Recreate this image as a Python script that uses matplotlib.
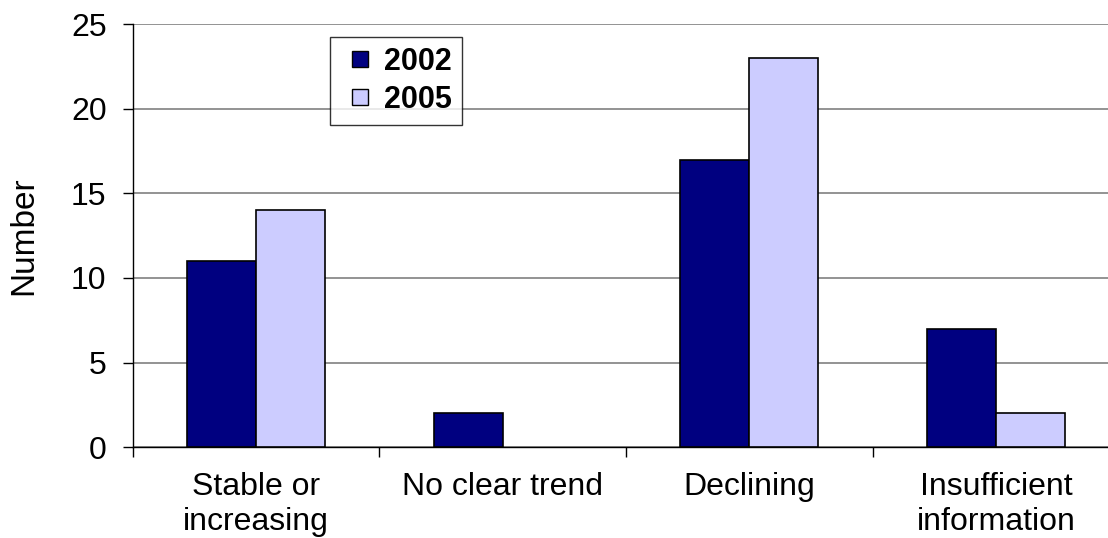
import numpy as np
import matplotlib.pyplot as plt
from matplotlib.ticker import FixedLocator
from matplotlib.lines import Line2D

categories = ['Stable or\nincreasing', 'No clear trend', 'Declining', 'Insufficient\ninformation']
v2002 = [11, 2, 17, 7]
v2005 = [14, 0, 23, 2]
years = ['2002', '2005']
colors = ['#000080', '#ccccff']

plt.rcParams['font.family'] = ['Liberation Sans', 'DejaVu Sans']

fig = plt.figure(figsize=(11.08, 5.38), dpi=100)
ax = fig.add_axes([0.12, 0.169, 0.89, 0.786])

x = np.arange(len(categories))
w = 0.28
lw1 = [1.2 if v > 0 else 0 for v in v2002]
lw2 = [1.2 if v > 0 else 0 for v in v2005]
ax.bar(x - w/2, v2002, w, color=colors[0], edgecolor='black', linewidth=lw1, zorder=3)
ax.bar(x + w/2, v2005, w, color=colors[1], edgecolor='black', linewidth=lw2, zorder=3)

ax.set_xlim(-0.5, len(categories) - 0.5)
ax.set_ylim(0, 25)
ax.set_yticks([0, 5, 10, 15, 20, 25])
ax.yaxis.grid(True, color='#808080', linewidth=1.2, zorder=0)

ax.set_xticks(x)
ax.set_xticklabels(categories, fontsize=23)
ax.xaxis.set_minor_locator(FixedLocator(np.arange(-0.5, len(categories), 1.0)))
ax.tick_params(axis='x', which='major', length=0, pad=18)
ax.tick_params(axis='x', which='minor', length=7, width=1, direction='out')
ax.tick_params(axis='y', labelsize=23, length=7, width=1, direction='out', pad=12)

for s in ['top', 'right']:
    ax.spines[s].set_visible(False)
for s in ['left', 'bottom']:
    ax.spines[s].set_linewidth(1)

ax.set_ylabel('Number', fontsize=24, labelpad=23)

handles = [Line2D([], [], linestyle='none', marker='s', markersize=11,
                  markerfacecolor=c, markeredgecolor='black', markeredgewidth=1)
           for c in colors]
leg = ax.legend(handles, years, loc='upper left', bbox_to_anchor=(0.2, 0.969), frameon=True,
                fancybox=False, edgecolor='black', prop={'weight': 'bold', 'size': 22},
                handlelength=1.3, handletextpad=0.15,
                borderpad=0.32, labelspacing=0.25, borderaxespad=0)
leg.get_frame().set_linewidth(1)
leg.set_zorder(5)

fig.savefig('out.png', dpi=100)
